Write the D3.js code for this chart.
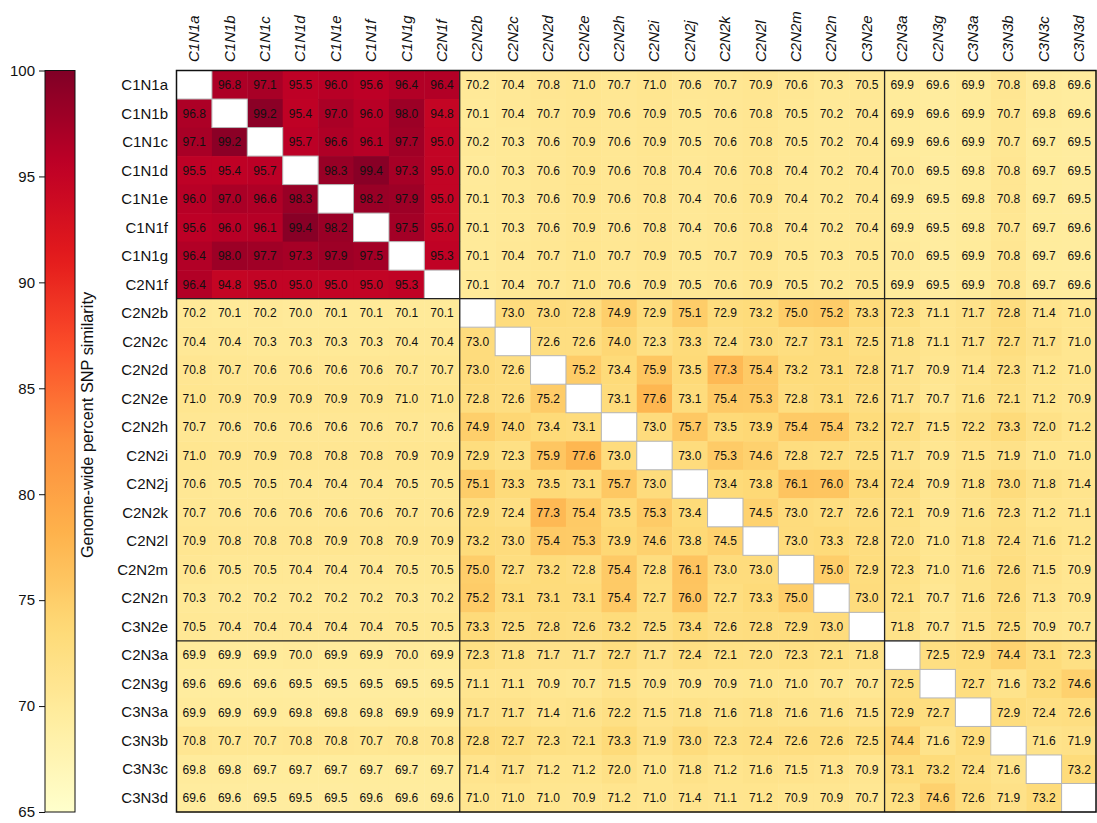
<!DOCTYPE html>
<html>
<head>
<meta charset="utf-8">
<script src="https://cdn.jsdelivr.net/npm/d3@7"></script>
<style>
  body { margin: 0; background: #fff; }
  svg { display: block; }
</style>
</head>
<body>
<svg id="chart" width="1097" height="823"></svg>
<script>
// Sample names, in matrix order (rows and columns share the order)
const samples = [
  "C1N1a", "C1N1b", "C1N1c", "C1N1d", "C1N1e", "C1N1f", "C1N1g", "C2N1f",
  "C2N2b", "C2N2c", "C2N2d", "C2N2e", "C2N2h", "C2N2i", "C2N2j", "C2N2k",
  "C2N2l", "C2N2m", "C2N2n", "C3N2e",
  "C2N3a", "C2N3g", "C3N3a", "C3N3b", "C3N3c", "C3N3d"
];

// Number of samples in each cluster block
const groupSizes = [8, 12, 6];

// Colour bar ticks (percent)
const colorbarTicks = [65, 70, 75, 80, 85, 90, 95, 100];

// Pairwise genome-wide SNP similarity (%), one row per sample; null = self
const rowsCluster1 = [
  [null, 96.8, 97.1, 95.5, 96.0, 95.6, 96.4, 96.4, 70.2, 70.4, 70.8, 71.0, 70.7, 71.0, 70.6, 70.7, 70.9, 70.6, 70.3, 70.5, 69.9, 69.6, 69.9, 70.8, 69.8, 69.6],
  [96.8, null, 99.2, 95.4, 97.0, 96.0, 98.0, 94.8, 70.1, 70.4, 70.7, 70.9, 70.6, 70.9, 70.5, 70.6, 70.8, 70.5, 70.2, 70.4, 69.9, 69.6, 69.9, 70.7, 69.8, 69.6],
  [97.1, 99.2, null, 95.7, 96.6, 96.1, 97.7, 95.0, 70.2, 70.3, 70.6, 70.9, 70.6, 70.9, 70.5, 70.6, 70.8, 70.5, 70.2, 70.4, 69.9, 69.6, 69.9, 70.7, 69.7, 69.5],
  [95.5, 95.4, 95.7, null, 98.3, 99.4, 97.3, 95.0, 70.0, 70.3, 70.6, 70.9, 70.6, 70.8, 70.4, 70.6, 70.8, 70.4, 70.2, 70.4, 70.0, 69.5, 69.8, 70.8, 69.7, 69.5],
  [96.0, 97.0, 96.6, 98.3, null, 98.2, 97.9, 95.0, 70.1, 70.3, 70.6, 70.9, 70.6, 70.8, 70.4, 70.6, 70.9, 70.4, 70.2, 70.4, 69.9, 69.5, 69.8, 70.8, 69.7, 69.5],
  [95.6, 96.0, 96.1, 99.4, 98.2, null, 97.5, 95.0, 70.1, 70.3, 70.6, 70.9, 70.6, 70.8, 70.4, 70.6, 70.8, 70.4, 70.2, 70.4, 69.9, 69.5, 69.8, 70.7, 69.7, 69.6],
  [96.4, 98.0, 97.7, 97.3, 97.9, 97.5, null, 95.3, 70.1, 70.4, 70.7, 71.0, 70.7, 70.9, 70.5, 70.7, 70.9, 70.5, 70.3, 70.5, 70.0, 69.5, 69.9, 70.8, 69.7, 69.6],
  [96.4, 94.8, 95.0, 95.0, 95.0, 95.0, 95.3, null, 70.1, 70.4, 70.7, 71.0, 70.6, 70.9, 70.5, 70.6, 70.9, 70.5, 70.2, 70.5, 69.9, 69.5, 69.9, 70.8, 69.7, 69.6]
];

const rowsCluster2 = [
  [70.2, 70.1, 70.2, 70.0, 70.1, 70.1, 70.1, 70.1, null, 73.0, 73.0, 72.8, 74.9, 72.9, 75.1, 72.9, 73.2, 75.0, 75.2, 73.3, 72.3, 71.1, 71.7, 72.8, 71.4, 71.0],
  [70.4, 70.4, 70.3, 70.3, 70.3, 70.3, 70.4, 70.4, 73.0, null, 72.6, 72.6, 74.0, 72.3, 73.3, 72.4, 73.0, 72.7, 73.1, 72.5, 71.8, 71.1, 71.7, 72.7, 71.7, 71.0],
  [70.8, 70.7, 70.6, 70.6, 70.6, 70.6, 70.7, 70.7, 73.0, 72.6, null, 75.2, 73.4, 75.9, 73.5, 77.3, 75.4, 73.2, 73.1, 72.8, 71.7, 70.9, 71.4, 72.3, 71.2, 71.0],
  [71.0, 70.9, 70.9, 70.9, 70.9, 70.9, 71.0, 71.0, 72.8, 72.6, 75.2, null, 73.1, 77.6, 73.1, 75.4, 75.3, 72.8, 73.1, 72.6, 71.7, 70.7, 71.6, 72.1, 71.2, 70.9],
  [70.7, 70.6, 70.6, 70.6, 70.6, 70.6, 70.7, 70.6, 74.9, 74.0, 73.4, 73.1, null, 73.0, 75.7, 73.5, 73.9, 75.4, 75.4, 73.2, 72.7, 71.5, 72.2, 73.3, 72.0, 71.2],
  [71.0, 70.9, 70.9, 70.8, 70.8, 70.8, 70.9, 70.9, 72.9, 72.3, 75.9, 77.6, 73.0, null, 73.0, 75.3, 74.6, 72.8, 72.7, 72.5, 71.7, 70.9, 71.5, 71.9, 71.0, 71.0],
  [70.6, 70.5, 70.5, 70.4, 70.4, 70.4, 70.5, 70.5, 75.1, 73.3, 73.5, 73.1, 75.7, 73.0, null, 73.4, 73.8, 76.1, 76.0, 73.4, 72.4, 70.9, 71.8, 73.0, 71.8, 71.4],
  [70.7, 70.6, 70.6, 70.6, 70.6, 70.6, 70.7, 70.6, 72.9, 72.4, 77.3, 75.4, 73.5, 75.3, 73.4, null, 74.5, 73.0, 72.7, 72.6, 72.1, 70.9, 71.6, 72.3, 71.2, 71.1],
  [70.9, 70.8, 70.8, 70.8, 70.9, 70.8, 70.9, 70.9, 73.2, 73.0, 75.4, 75.3, 73.9, 74.6, 73.8, 74.5, null, 73.0, 73.3, 72.8, 72.0, 71.0, 71.8, 72.4, 71.6, 71.2],
  [70.6, 70.5, 70.5, 70.4, 70.4, 70.4, 70.5, 70.5, 75.0, 72.7, 73.2, 72.8, 75.4, 72.8, 76.1, 73.0, 73.0, null, 75.0, 72.9, 72.3, 71.0, 71.6, 72.6, 71.5, 70.9],
  [70.3, 70.2, 70.2, 70.2, 70.2, 70.2, 70.3, 70.2, 75.2, 73.1, 73.1, 73.1, 75.4, 72.7, 76.0, 72.7, 73.3, 75.0, null, 73.0, 72.1, 70.7, 71.6, 72.6, 71.3, 70.9],
  [70.5, 70.4, 70.4, 70.4, 70.4, 70.4, 70.5, 70.5, 73.3, 72.5, 72.8, 72.6, 73.2, 72.5, 73.4, 72.6, 72.8, 72.9, 73.0, null, 71.8, 70.7, 71.5, 72.5, 70.9, 70.7]
];

const rowsCluster3 = [
  [69.9, 69.9, 69.9, 70.0, 69.9, 69.9, 70.0, 69.9, 72.3, 71.8, 71.7, 71.7, 72.7, 71.7, 72.4, 72.1, 72.0, 72.3, 72.1, 71.8, null, 72.5, 72.9, 74.4, 73.1, 72.3],
  [69.6, 69.6, 69.6, 69.5, 69.5, 69.5, 69.5, 69.5, 71.1, 71.1, 70.9, 70.7, 71.5, 70.9, 70.9, 70.9, 71.0, 71.0, 70.7, 70.7, 72.5, null, 72.7, 71.6, 73.2, 74.6],
  [69.9, 69.9, 69.9, 69.8, 69.8, 69.8, 69.9, 69.9, 71.7, 71.7, 71.4, 71.6, 72.2, 71.5, 71.8, 71.6, 71.8, 71.6, 71.6, 71.5, 72.9, 72.7, null, 72.9, 72.4, 72.6],
  [70.8, 70.7, 70.7, 70.8, 70.8, 70.7, 70.8, 70.8, 72.8, 72.7, 72.3, 72.1, 73.3, 71.9, 73.0, 72.3, 72.4, 72.6, 72.6, 72.5, 74.4, 71.6, 72.9, null, 71.6, 71.9],
  [69.8, 69.8, 69.7, 69.7, 69.7, 69.7, 69.7, 69.7, 71.4, 71.7, 71.2, 71.2, 72.0, 71.0, 71.8, 71.2, 71.6, 71.5, 71.3, 70.9, 73.1, 73.2, 72.4, 71.6, null, 73.2],
  [69.6, 69.6, 69.5, 69.5, 69.5, 69.6, 69.6, 69.6, 71.0, 71.0, 71.0, 70.9, 71.2, 71.0, 71.4, 71.1, 71.2, 70.9, 70.9, 70.7, 72.3, 74.6, 72.6, 71.9, 73.2, null]
];

const similarity = [...rowsCluster1, ...rowsCluster2, ...rowsCluster3];

// ---- drawing ----
const svg = d3.select("#chart");
const labelFont = "'Liberation Sans', Arial, sans-serif";

const grid = { left: 176.5, right: 1097, top: 70.5, bottom: 812 };

const x = d3.scaleBand().domain(samples).range([grid.left, grid.right]);
const y = d3.scaleBand().domain(samples).range([grid.top, grid.bottom]);

// YlOrRd ramp, linearly interpolated between the nine anchor colours
const ylOrRd = ["#ffffcc", "#ffeda0", "#fed976", "#feb24c", "#fd8d3c",
                "#fc4e2a", "#e31a1c", "#bd0026", "#800026"];
const vmin = 65, vmax = 100;
const color = d3.scaleLinear()
  .domain(ylOrRd.map((_, i) => vmin + i * (vmax - vmin) / (ylOrRd.length - 1)))
  .range(ylOrRd)
  .clamp(true);

const cells = [];
similarity.forEach((row, i) => row.forEach((v, j) => {
  cells.push({ r: samples[i], c: samples[j], v });
}));

const cellG = svg.append("g");
cellG.selectAll("rect")
  .data(cells.filter(d => d.v !== null))
  .join("rect")
  .attr("x", d => x(d.c))
  .attr("y", d => y(d.r))
  .attr("width", x.bandwidth() + 0.5)
  .attr("height", y.bandwidth() + 0.5)
  .attr("fill", d => color(d.v));

// self comparisons left blank
cellG.selectAll("rect.self")
  .data(cells.filter(d => d.v === null))
  .join("rect")
  .attr("class", "self")
  .attr("x", d => x(d.c))
  .attr("y", d => y(d.r))
  .attr("width", x.bandwidth())
  .attr("height", y.bandwidth())
  .attr("fill", "#fff")
  .attr("stroke", "#b5b5b5")
  .attr("stroke-width", 1);

// value labels
svg.append("g").selectAll("text")
  .data(cells.filter(d => d.v !== null))
  .join("text")
  .attr("x", d => x(d.c) + x.bandwidth() / 2)
  .attr("y", d => y(d.r) + y.bandwidth() / 2)
  .attr("dy", "0.36em")
  .attr("text-anchor", "middle")
  .attr("font-family", labelFont)
  .attr("font-size", 12)
  .attr("fill", "#111")
  .text(d => d.v.toFixed(1));

// cluster separators
const bounds = d3.cumsum(groupSizes).slice(0, -1);
const sepG = svg.append("g").attr("stroke", "#222").attr("stroke-width", 1.3);
bounds.forEach(k => {
  const name = samples[k];
  sepG.append("line")
    .attr("x1", x(name)).attr("x2", x(name))
    .attr("y1", grid.top).attr("y2", grid.bottom);
  sepG.append("line")
    .attr("x1", grid.left).attr("x2", grid.right)
    .attr("y1", y(name)).attr("y2", y(name));
});

// outer frame
svg.append("rect")
  .attr("x", grid.left).attr("y", grid.top)
  .attr("width", grid.right - grid.left - 1)
  .attr("height", grid.bottom - grid.top)
  .attr("fill", "none")
  .attr("stroke", "#111")
  .attr("stroke-width", 1.5);

// row labels
svg.append("g").selectAll("text")
  .data(samples)
  .join("text")
  .attr("x", 168)
  .attr("y", d => y(d) + y.bandwidth() / 2)
  .attr("dy", "0.35em")
  .attr("text-anchor", "end")
  .attr("font-family", labelFont)
  .attr("font-size", 15)
  .attr("fill", "#111")
  .text(d => d);

// column labels, rotated
svg.append("g").selectAll("text")
  .data(samples)
  .join("text")
  .attr("transform", d => `translate(${x(d) + x.bandwidth() / 2 + 5},62) rotate(-90)`)
  .attr("text-anchor", "start")
  .attr("font-family", labelFont)
  .attr("font-style", "italic")
  .attr("font-size", 15)
  .attr("fill", "#111")
  .text(d => d);

// ---- colour bar ----
const cb = { x: 45, w: 30 };
const cbY = d3.scaleLinear().domain([vmin, vmax]).range([grid.bottom, grid.top]);

const grad = svg.append("defs").append("linearGradient")
  .attr("id", "cbGrad")
  .attr("x1", 0).attr("y1", 1).attr("x2", 0).attr("y2", 0);
d3.range(0, 1.0001, 0.02).forEach(t => {
  grad.append("stop")
    .attr("offset", t)
    .attr("stop-color", color(vmin + t * (vmax - vmin)));
});

svg.append("rect")
  .attr("x", cb.x).attr("y", grid.top)
  .attr("width", cb.w).attr("height", grid.bottom - grid.top)
  .attr("fill", "url(#cbGrad)")
  .attr("stroke", "#111")
  .attr("stroke-width", 1);

const cbAxis = svg.append("g")
  .attr("transform", `translate(${cb.x},0)`)
  .call(d3.axisLeft(cbY).tickValues(colorbarTicks).tickSize(6).tickPadding(4).tickFormat(d3.format("d")));
cbAxis.select(".domain").remove();
cbAxis.selectAll("line").attr("stroke", "#111");
cbAxis.selectAll("text")
  .attr("font-family", labelFont)
  .attr("font-size", 15)
  .attr("fill", "#111");

// slightly condensed colour bar title
svg.append("text")
  .attr("transform", `translate(${cb.x + cb.w + 18},425) rotate(-90) scale(0.96,1)`)
  .attr("text-anchor", "middle")
  .attr("font-family", labelFont)
  .attr("font-size", 17)
  .attr("fill", "#111")
  .text("Genome-wide percent SNP similarity");
</script>
</body>
</html>
